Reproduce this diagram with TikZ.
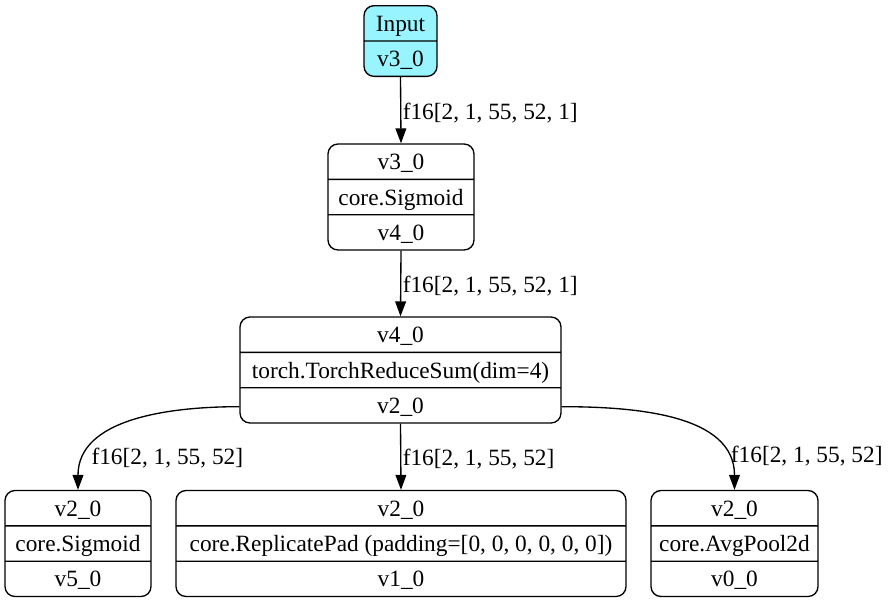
\documentclass[tikz,border=0pt]{standalone}
\usepackage{fontspec}
\setmainfont{Liberation Serif}
\usetikzlibrary{shapes.multipart,arrows.meta}

\definecolor{inputcyan}{HTML}{98F5FF}
\newcommand\recstrut{\rule[-5.4pt]{0pt}{20.4pt}}

\tikzset{
  record/.style={rectangle split, rectangle split parts=3, draw, line width=0.8pt,
    rounded corners=6pt, inner xsep=3pt, inner ysep=0pt, font=\fontsize{14}{16}\selectfont},
  inrecord/.style={record, rectangle split parts=2, fill=inputcyan},
  flow/.style={-{Triangle[length=9pt,width=6.5pt]}, line width=0.8pt},
  dimlabel/.style={anchor=west, inner sep=0.8pt, yshift=-1.5pt, font=\fontsize{14}{16}\selectfont}
}

\begin{document}
\begin{tikzpicture}[x=0.6pt, y=-0.6pt]
  \useasboundingbox (0,0) rectangle (889,601);

  \node[inrecord, minimum width=43.8pt] (input) at (400.5,41)
    {\recstrut Input\nodepart{two}\recstrut v3\_0};
  \node[record, minimum width=87.6pt] (sigm) at (401,197)
    {\recstrut v3\_0\nodepart{two}\recstrut core.Sigmoid\nodepart{three}\recstrut v4\_0};
  \node[record, minimum width=192.6pt] (redsum) at (400.5,370)
    {\recstrut v4\_0\nodepart{two}\recstrut torch.TorchReduceSum(dim=4)\nodepart{three}\recstrut v2\_0};

  \node[record, minimum width=87.6pt] (sigout) at (78,543.5)
    {\recstrut v2\_0\nodepart{two}\recstrut core.Sigmoid\nodepart{three}\recstrut v5\_0};
  \node[record, minimum width=270pt] (padout) at (401,543.5)
    {\recstrut v2\_0\nodepart{two}\recstrut core.ReplicatePad (padding=[0, 0, 0, 0, 0, 0])\nodepart{three}\recstrut v1\_0};
  \node[record, minimum width=100.2pt] (poolout) at (734.5,543.5)
    {\recstrut v2\_0\nodepart{two}\recstrut core.AvgPool2d\nodepart{three}\recstrut v0\_0};

  \draw[flow] (input.south) -- node[dimlabel] (l1) {f16[2, 1, 55, 52, 1]} (sigm.north);
  \draw[flow] (sigm.south) -- node[dimlabel] (l2) {f16[2, 1, 55, 52, 1]} (redsum.north);

  \draw[flow] ([yshift=10.2pt]redsum.south west) to[out=180, in=90]
    node[dimlabel, pos=0.81, xshift=1.5pt] (l3) {f16[2, 1, 55, 52]} (sigout.north);
  \draw[flow] (redsum.south) -- node[dimlabel] (l4) {f16[2, 1, 55, 52]} (padout.north);
  \draw[flow] ([yshift=10.2pt]redsum.south east) to[out=0, in=90]
    node[dimlabel, pos=0.81, xshift=2.5pt] (l5) {f16[2, 1, 55, 52]} (poolout.north);

\end{tikzpicture}
\end{document}
